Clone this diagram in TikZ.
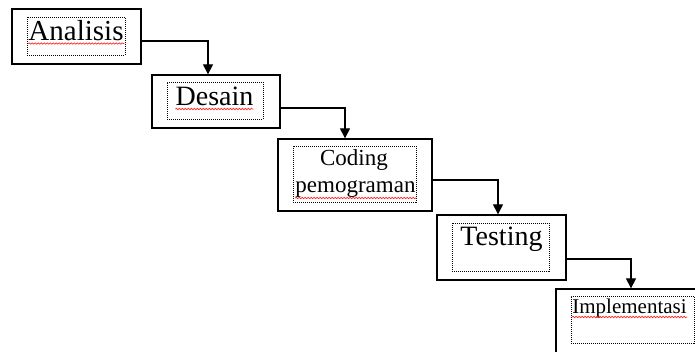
\documentclass[tikz,border=0pt]{standalone}
\usepackage{fontspec}
\setmainfont{Liberation Serif}
\usetikzlibrary{arrows.meta,decorations.pathmorphing}
\tikzset{
  outerbox/.style={draw=black,line width=1.3pt,fill=white,inner sep=0pt},
  innerbox/.style={draw=black,line width=1pt,dash pattern=on 1pt off 1pt,inner sep=0pt},
  lbl/.style={inner sep=0pt,anchor=base,text=black},
  conn/.style={draw=black,line width=1.1pt,-{Triangle[width=10pt,length=10pt]}},
  spell/.style={draw=red!85,line width=0.7pt,decorate,decoration={snake,segment length=3pt,amplitude=0.7pt}}
}
\begin{document}
\begin{tikzpicture}[x=1pt,y=-1pt]
\useasboundingbox (0,0) rectangle (695,351);
\clip (0,0) rectangle (695,351);
\fill[white] (0,0) rectangle (695,351);
% outer boxes
\node[outerbox,minimum width=129pt,minimum height=55pt] (b1) at (76.5,36.5) {};
\node[outerbox,minimum width=128pt,minimum height=53pt] (b2) at (216,101.5) {};
\node[outerbox,minimum width=154pt,minimum height=72pt] (b3) at (355,175) {};
\node[outerbox,minimum width=129pt,minimum height=65pt] (b4) at (501.5,247.5) {};
\node[outerbox,minimum width=144pt,minimum height=70pt] (b5) at (628,324) {};
% inner dotted boxes
\node[innerbox,minimum width=98pt,minimum height=38pt] (i1) at (76,36) {};
\node[innerbox,minimum width=96pt,minimum height=37pt] (i2) at (215,100.5) {};
\node[innerbox,minimum width=123pt,minimum height=56pt] (i3) at (354.5,174) {};
\node[innerbox,minimum width=97pt,minimum height=48pt] (i4) at (500.5,247) {};
\node[innerbox,minimum width=123pt,minimum height=47pt] (i5) at (632.5,319.5) {};
% texts
\node[lbl,font=\fontsize{29}{30}\selectfont] (t1) at (76,40) {Analisis};
\node[lbl,font=\fontsize{28}{30}\selectfont] (t2) at (214.5,105) {Desain};
\node[lbl,font=\fontsize{23}{25}\selectfont] (t3a) at (354,165) {Coding};
\node[lbl,font=\fontsize{23}{25}\selectfont] (t3b) at (355.5,192) {pemograman};
\node[lbl,font=\fontsize{28}{30}\selectfont] (t4) at (501.5,245) {Testing};
\node[lbl,font=\fontsize{21}{23}\selectfont] (t5) at (629.5,313) {Implementasi};
% spell-check underlines
\draw[spell] (t1.base west) ++(0,3.5) -- ++(96,0);
\draw[spell] (t2.base west) ++(0,4) -- ++(78,0);
\draw[spell] (t3b.base west) ++(0,6) -- ++(121,0);
\draw[spell] (t5.base west) ++(0,4) -- ++(115,0);
% connectors
\draw[conn] ([yshift=-4.5pt]b1.east) -| ([xshift=-8pt]b2.north);
\draw[conn] ([yshift=-6.5pt]b2.east) -| ([xshift=-10pt]b3.north);
\draw[conn] ([yshift=-5pt]b3.east) -| ([xshift=-3.5pt]b4.north);
\draw[conn] ([yshift=-11.5pt]b4.east) -| ([xshift=3pt]b5.north);
\end{tikzpicture}
\end{document}
